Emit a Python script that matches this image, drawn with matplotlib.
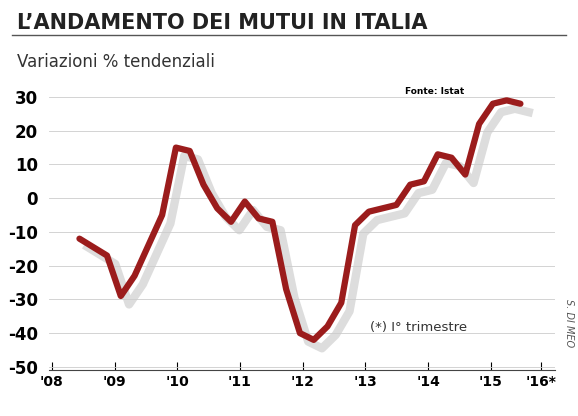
import matplotlib.pyplot as plt

# quarterly, Q1 2008 .. Q1 2016
values = [-12, -14.5, -17, -29, -23, -14, -5, 15, 14, 4, -3, -7, -1, -6, -7,
          -27, -40, -42, -38, -31, -8, -4, -3, -2, 4, 5, 13, 12, 7, 22, 28, 29, 28]
years = ["'08", "'09", "'10", "'11", "'12", "'13", "'14", "'15", "'16*"]
yticks = [30, 20, 10, 0, -10, -20, -30, -40, -50]

fig = plt.figure(figsize=(5.78, 4.16), dpi=100)
ax = fig.add_axes([0.085, 0.11, 0.875, 0.665])
x = list(range(len(values)))
ax.plot([i + 0.6 for i in x], [v - 2.5 for v in values], color='#dddddd', lw=6, zorder=1)
ax.plot(x, values, color='#9b1c1c', lw=4.5, zorder=2, solid_capstyle='round')

ax.set_ylim(-51, 31)
ax.set_xlim(-2.2, 34.5)
ax.set_yticks(yticks)
ax.set_yticklabels([str(t) for t in yticks], fontsize=12, fontweight='bold')
ax.set_xticks([-2.0 + i * 4.55 for i in range(8)] + [33.5])
ax.set_xticklabels(years, fontsize=10, fontweight='bold')
ax.grid(axis='y', color='#cccccc', lw=0.6)
for s in ['top', 'right', 'left']:
    ax.spines[s].set_visible(False)
ax.spines['bottom'].set_color('#444444')
ax.tick_params(axis='y', length=0, pad=8)
ax.tick_params(axis='x', length=6, direction='in')

fig.text(0.03, 0.93, "L\u2019ANDAMENTO DEI MUTUI IN ITALIA", fontsize=15, fontweight='bold',
         color='#222222')
fig.add_artist(plt.Line2D([0.02, 0.98], [0.915, 0.915], color='#555555', lw=1))
fig.text(0.03, 0.84, "Variazioni % tendenziali", fontsize=12, color='#333333')
fig.text(0.70, 0.775, "Fonte: Istat", fontsize=6.5, fontweight='bold')
fig.text(0.64, 0.205, "(*) I\u00b0 trimestre", fontsize=9.5, color='#333333')
fig.text(0.975, 0.17, "S. DI MEO", fontsize=7, rotation=270, style='italic', color='#555555')

fig.savefig('out.png', dpi=100, facecolor='white')
